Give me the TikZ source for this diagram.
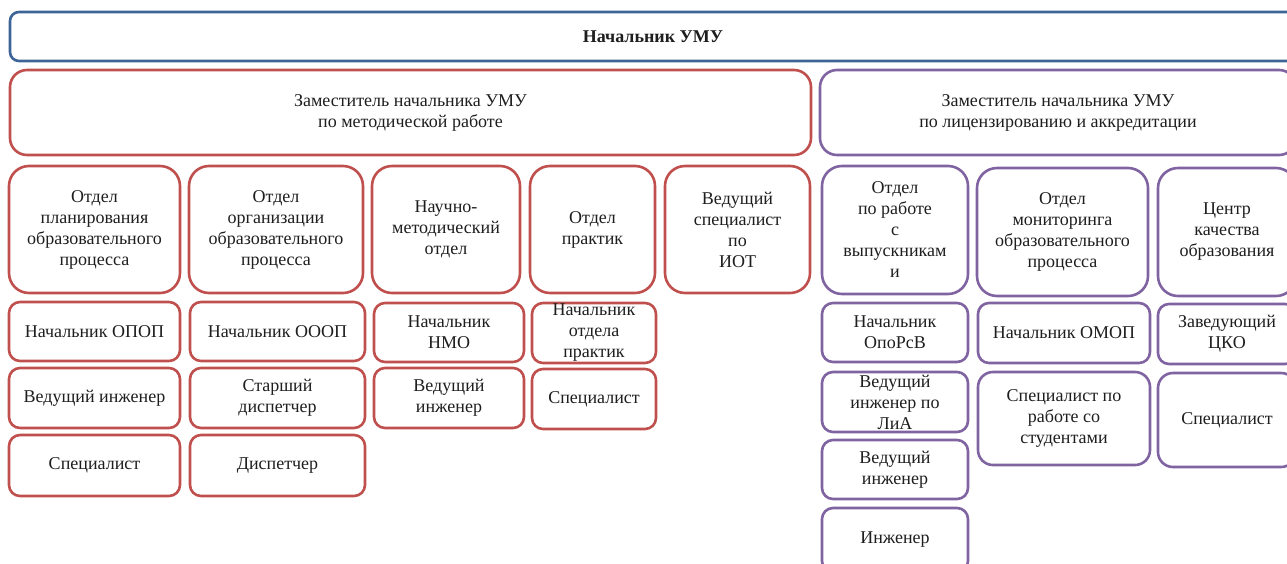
\documentclass[tikz,border=0pt]{standalone}
\usepackage{fontspec}
\setmainfont{Liberation Serif}
\definecolor{cred}{HTML}{C0504D}
\definecolor{cpurple}{HTML}{8064A2}
\definecolor{cblue}{HTML}{3C6496}
\definecolor{ctext}{HTML}{1E1E1E}
\tikzset{
  box/.style={draw, line width=2.6pt, fill=white, align=center, inner sep=0pt,
    text=ctext, font=\fontsize{18}{21}\selectfont},
  redbox/.style={box, draw=cred},
  purplebox/.style={box, draw=cpurple},
  bluebox/.style={box, draw=cblue, rounded corners=9pt},
  big/.style={rounded corners=17pt},
  dept/.style={rounded corners=20pt},
  small/.style={rounded corners=11pt},
  mid/.style={rounded corners=15pt},
}
\newcommand\bx[7]{%
  \node[#2, minimum width={(#5-#3)*1pt}, minimum height={(#6-#4)*1pt}]
    (#1) at ({(#3+#5)/2},{(#4+#6)/2}) {#7};%
}
\begin{document}
\begin{tikzpicture}[x=1pt,y=-1pt]
\useasboundingbox (0,0) rectangle (1287,563);
\clip (0,0) rectangle (1287,563);
% top
\bx{top}{bluebox}{10}{12}{1296}{61}{\textbf{Начальник УМУ}}
% deputies
\bx{dep1}{redbox,big}{10}{70}{811}{155}{Заместитель начальника УМУ\\по методической работе}
\bx{dep2}{purplebox,big}{820}{70}{1296}{155}{Заместитель начальника УМУ\\по лицензированию и аккредитации}
% departments (red)
\bx{d1}{redbox,dept}{9}{166}{180}{293}{Отдел\\планирования\\образовательного\\процесса}
\bx{d2}{redbox,dept}{189}{166}{363}{293}{Отдел\\организации\\образовательного\\процесса}
\bx{d3}{redbox,dept}{372}{166}{520}{293}{Научно-\\методический\\отдел}
\bx{d4}{redbox,dept}{530}{166}{655}{293}{Отдел\\практик}
\bx{d5}{redbox,dept}{665}{166}{810}{293}{Ведущий\\специалист\\по\\ИОТ}
% departments (purple)
\bx{d6}{purplebox,dept}{822}{166}{968}{294}{Отдел\\по работе\\с\\выпускникам\\и}
\bx{d7}{purplebox,dept}{977}{168}{1148}{296}{Отдел\\мониторинга\\образовательного\\процесса}
\bx{d8}{purplebox,dept}{1158}{168}{1296}{296}{Центр\\качества\\образования}
% red staff
\bx{a1}{redbox,small}{9}{302}{180}{361}{Начальник ОПОП}
\bx{a2}{redbox,small}{9}{368}{180}{428}{Ведущий инженер}
\bx{a3}{redbox,small}{9}{435}{180}{496}{Специалист}
\bx{b1}{redbox,small}{190}{302}{365}{361}{Начальник ОООП}
\bx{b2}{redbox,small}{190}{368}{365}{428}{Старший\\диспетчер}
\bx{b3}{redbox,small}{190}{435}{365}{496}{Диспетчер}
\bx{c1}{redbox,small}{374}{303}{524}{362}{Начальник\\НМО}
\bx{c2}{redbox,small}{374}{368}{524}{428}{Ведущий\\инженер}
\bx{e1}{redbox,small}{532}{303}{656}{363}{Начальник\\отдела\\практик}
\bx{e2}{redbox,small}{532}{369}{656}{429}{Специалист}
% purple staff
\bx{f1}{purplebox,small}{822}{303}{968}{362}{Начальник\\ОпоРсВ}
\bx{f2}{purplebox,small}{822}{372}{968}{432}{Ведущий\\инженер по\\ЛиА}
\bx{f3}{purplebox,small}{822}{440}{968}{499}{Ведущий\\инженер}
\bx{f4}{purplebox,small}{822}{508}{968}{572}{Инженер}
\bx{g1}{purplebox,small}{978}{303}{1150}{363}{Начальник ОМОП}
\bx{g2}{purplebox,mid}{978}{372}{1150}{465}{Специалист по\\работе со\\студентами}
\bx{h1}{purplebox,small}{1158}{304}{1296}{364}{Заведующий\\ЦКО}
\bx{h2}{purplebox,mid}{1158}{373}{1296}{467}{Специалист}
\end{tikzpicture}
\end{document}
